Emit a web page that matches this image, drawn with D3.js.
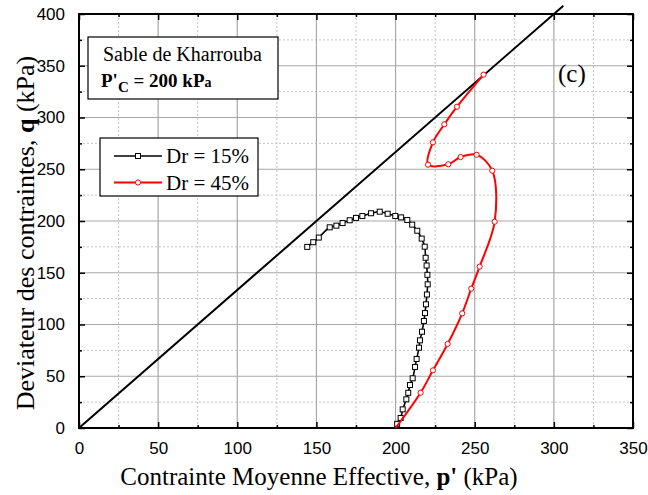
<!DOCTYPE html>
<html>
<head>
<meta charset="utf-8">
<script src="https://cdn.jsdelivr.net/npm/d3@7"></script>
<style>
  body { margin: 0; background: #fff; }
  svg { display: block; }
</style>
</head>
<body>
<svg id="chart"></svg>
<script>
// chart values
const xTicks = [0, 50, 100, 150, 200, 250, 300, 350];
const yTicks = [0, 50, 100, 150, 200, 250, 300, 350, 400];

// critical state line q = M p'
const cslP = [0, 306];
const cslQ = [0, 408];

// Dr = 15%
const dr15P = [200, 201, 203.2, 204.5, 206.8, 208, 209.1, 210.8, 212.3, 213.3, 214.8, 215.4, 216.7, 217.9, 218.6, 219.2, 219.8, 220.3, 220.1, 219.6, 219, 218.4, 216.5, 213.7, 210.5, 207.4, 203.5, 199.8, 195, 190, 184.5, 179, 175, 171, 166.5, 162.6, 158.4, 151.5, 148, 144.2];
const dr15Q = [0, 4, 9.7, 18, 27.7, 34, 41.5, 48, 59, 66.7, 77.6, 84.7, 93, 103.4, 111, 119.5, 129, 138.8, 148, 157, 164.5, 175.2, 183, 190.6, 196.5, 201, 203.5, 204.8, 207, 209, 207.5, 204.8, 203, 200.7, 198, 195.5, 193.9, 184, 179.5, 175];

// Dr = 45%
const dr45P = [200, 215.8, 223.6, 232.9, 242.1, 247.8, 253.1, 262.6, 261.1, 251.2, 241.1, 233.3, 220.5, 223.6, 230.8, 238.8, 255.6];
const dr45Q = [0, 34.1, 55.7, 81.2, 110.8, 134.6, 155.9, 199.3, 248.6, 264, 261.8, 254.8, 254.4, 276, 293.4, 310.4, 341.4];

const seriesNames = ["Dr = 15%", "Dr = 45%"];
const seriesColors = ["#000000", "#ff0000"];

const margin = { top: 14, right: 15, bottom: 67, left: 79 },
  width = 648 - margin.left - margin.right,
  height = 495 - margin.top - margin.bottom;

const svg = d3.select("#chart")
  .attr("width", 648)
  .attr("height", 495)
  .append("g")
  .attr("transform", `translate(${margin.left},${margin.top})`);

const x = d3.scaleLinear().domain([0, 350]).range([0, width]);
const y = d3.scaleLinear().domain([0, 400]).range([height, 0]);

const minorX = d3.range(25, 350, 50);
const minorY = d3.range(25, 400, 50);

// grid: dotted minor, solid major
const grid = svg.append("g");
grid.selectAll(".mx").data(minorX).enter().append("line")
  .attr("x1", d => x(d)).attr("x2", d => x(d))
  .attr("y1", 0).attr("y2", height)
  .attr("stroke", "#c4c4c4").attr("stroke-dasharray", "2,2");
grid.selectAll(".my").data(minorY).enter().append("line")
  .attr("x1", 0).attr("x2", width)
  .attr("y1", d => y(d)).attr("y2", d => y(d))
  .attr("stroke", "#c4c4c4").attr("stroke-dasharray", "2,2");
grid.selectAll(".gx").data(xTicks.slice(1, -1)).enter().append("line")
  .attr("x1", d => x(d)).attr("x2", d => x(d))
  .attr("y1", 0).attr("y2", height)
  .attr("stroke", "#a8a8a8").attr("stroke-width", 1.2);
grid.selectAll(".gy").data(yTicks.slice(1, -1)).enter().append("line")
  .attr("x1", 0).attr("x2", width)
  .attr("y1", d => y(d)).attr("y2", d => y(d))
  .attr("stroke", "#a8a8a8").attr("stroke-width", 1.2);

// axes with inward ticks on all four sides
function styleAxis(g) {
  g.select(".domain").remove();
  g.selectAll(".tick line").attr("stroke", "#000").attr("stroke-width", 1.5);
  g.selectAll("text")
    .attr("fill", "#000")
    .style("font-family", "'Liberation Sans', Arial, sans-serif")
    .style("font-size", "17px");
}

svg.append("g").attr("transform", `translate(0,${height})`)
  .call(d3.axisBottom(x).tickValues(xTicks).tickSizeInner(-6).tickSizeOuter(0).tickPadding(14))
  .call(styleAxis);
svg.append("g").attr("transform", `translate(0,${height})`)
  .call(d3.axisBottom(x).tickValues(minorX).tickSizeInner(-3).tickSizeOuter(0).tickFormat(""))
  .call(styleAxis);
svg.append("g")
  .call(d3.axisLeft(y).tickValues(yTicks).tickSizeInner(-6).tickSizeOuter(0).tickPadding(14))
  .call(styleAxis);
svg.append("g")
  .call(d3.axisLeft(y).tickValues(minorY).tickSizeInner(-3).tickSizeOuter(0).tickFormat(""))
  .call(styleAxis);
svg.append("g")
  .call(d3.axisTop(x).tickValues(xTicks).tickSizeInner(-6).tickSizeOuter(0).tickFormat(""))
  .call(styleAxis);
svg.append("g")
  .call(d3.axisTop(x).tickValues(minorX).tickSizeInner(-3).tickSizeOuter(0).tickFormat(""))
  .call(styleAxis);
svg.append("g").attr("transform", `translate(${width},0)`)
  .call(d3.axisRight(y).tickValues(yTicks).tickSizeInner(-6).tickSizeOuter(0).tickFormat(""))
  .call(styleAxis);
svg.append("g").attr("transform", `translate(${width},0)`)
  .call(d3.axisRight(y).tickValues(minorY).tickSizeInner(-3).tickSizeOuter(0).tickFormat(""))
  .call(styleAxis);

// frame
svg.append("rect")
  .attr("width", width).attr("height", height)
  .attr("fill", "none").attr("stroke", "#000").attr("stroke-width", 2);

// critical state line (runs past the frame at the top)
svg.append("line")
  .attr("x1", x(cslP[0])).attr("y1", y(cslQ[0]))
  .attr("x2", x(cslP[1])).attr("y2", y(cslQ[1]))
  .attr("stroke", "#000").attr("stroke-width", 2);

const line = d3.line()
  .x(d => x(d[0]))
  .y(d => y(d[1]))
  .curve(d3.curveCatmullRom.alpha(0.5));

const data15 = dr15P.map((p, i) => [p, dr15Q[i]]);
const data45 = dr45P.map((p, i) => [p, dr45Q[i]]);

svg.append("path").datum(data15)
  .attr("d", line).attr("fill", "none")
  .attr("stroke", seriesColors[0]).attr("stroke-width", 1.6);
svg.append("g").selectAll("rect").data(data15.slice(1)).enter().append("rect")
  .attr("x", d => x(d[0]) - 2.5).attr("y", d => y(d[1]) - 2.5)
  .attr("width", 5).attr("height", 5)
  .attr("fill", "#fff").attr("stroke", seriesColors[0]).attr("stroke-width", 1);

svg.append("path").datum(data45)
  .attr("d", line).attr("fill", "none")
  .attr("stroke", seriesColors[1]).attr("stroke-width", 2);
svg.append("g").selectAll("circle").data(data45.slice(1)).enter().append("circle")
  .attr("cx", d => x(d[0])).attr("cy", d => y(d[1]))
  .attr("r", 2.6)
  .attr("fill", "#fff").attr("stroke", seriesColors[1]).attr("stroke-width", 1);

const serif = "'Liberation Serif', 'Times New Roman', serif";

// annotation box
svg.append("rect")
  .attr("x", 9).attr("y", 23).attr("width", 190).attr("height", 62)
  .attr("fill", "#fff").attr("stroke", "#000").attr("stroke-width", 1.2);
svg.append("text")
  .attr("x", 24).attr("y", 47)
  .style("font-family", serif).style("font-size", "20px")
  .text("Sable de Kharrouba");
const pc = svg.append("text")
  .attr("x", 22).attr("y", 73)
  .style("font-family", serif).style("font-size", "19px").style("font-weight", "bold");
pc.append("tspan").text("P'");
pc.append("tspan").attr("dy", 5).style("font-size", "15px").text("C");
pc.append("tspan").attr("dy", -5).text(" = 200 kP");
pc.append("tspan").style("font-size", "14px").text("a");

// (c) label
svg.append("text")
  .attr("x", 479).attr("y", 68)
  .style("font-family", serif).style("font-size", "25px")
  .text("(c)");

// legend
const legend = svg.append("g").attr("transform", "translate(21,124)");
legend.append("rect")
  .attr("width", 158).attr("height", 58)
  .attr("fill", "#fff").attr("stroke", "#000").attr("stroke-width", 1.2);
seriesNames.forEach((name, i) => {
  const ly = 18 + i * 26.5;
  legend.append("line")
    .attr("x1", 14).attr("x2", 62).attr("y1", ly).attr("y2", ly)
    .attr("stroke", seriesColors[i]).attr("stroke-width", i === 0 ? 1.6 : 2);
  if (i === 0) {
    legend.append("rect")
      .attr("x", 35.5).attr("y", ly - 2.5).attr("width", 5).attr("height", 5)
      .attr("fill", "#fff").attr("stroke", seriesColors[i]);
  } else {
    legend.append("circle")
      .attr("cx", 38).attr("cy", ly).attr("r", 2.6)
      .attr("fill", "#fff").attr("stroke", seriesColors[i]);
  }
  legend.append("text")
    .attr("x", 66).attr("y", ly + 7)
    .style("font-family", serif).style("font-size", "21px")
    .text(name);
});

// x-axis title
const xt = svg.append("text")
  .attr("x", 240).attr("y", 471)
  .attr("text-anchor", "middle")
  .style("font-family", serif).style("font-size", "25px");
xt.append("tspan").text("Contrainte Moyenne Effective, ");
xt.append("tspan").style("font-weight", "bold").text("p'");
xt.append("tspan").text(" (kPa)");

// y-axis title
const yt = svg.append("text")
  .attr("transform", "rotate(-90)")
  .attr("x", -219).attr("y", -45)
  .attr("text-anchor", "middle")
  .style("font-family", serif).style("font-size", "26px");
yt.append("tspan").text("Deviateur des contraintes, ");
yt.append("tspan").style("font-weight", "bold").text("q");
yt.append("tspan").text(" (kPa)");
</script>
</body>
</html>
